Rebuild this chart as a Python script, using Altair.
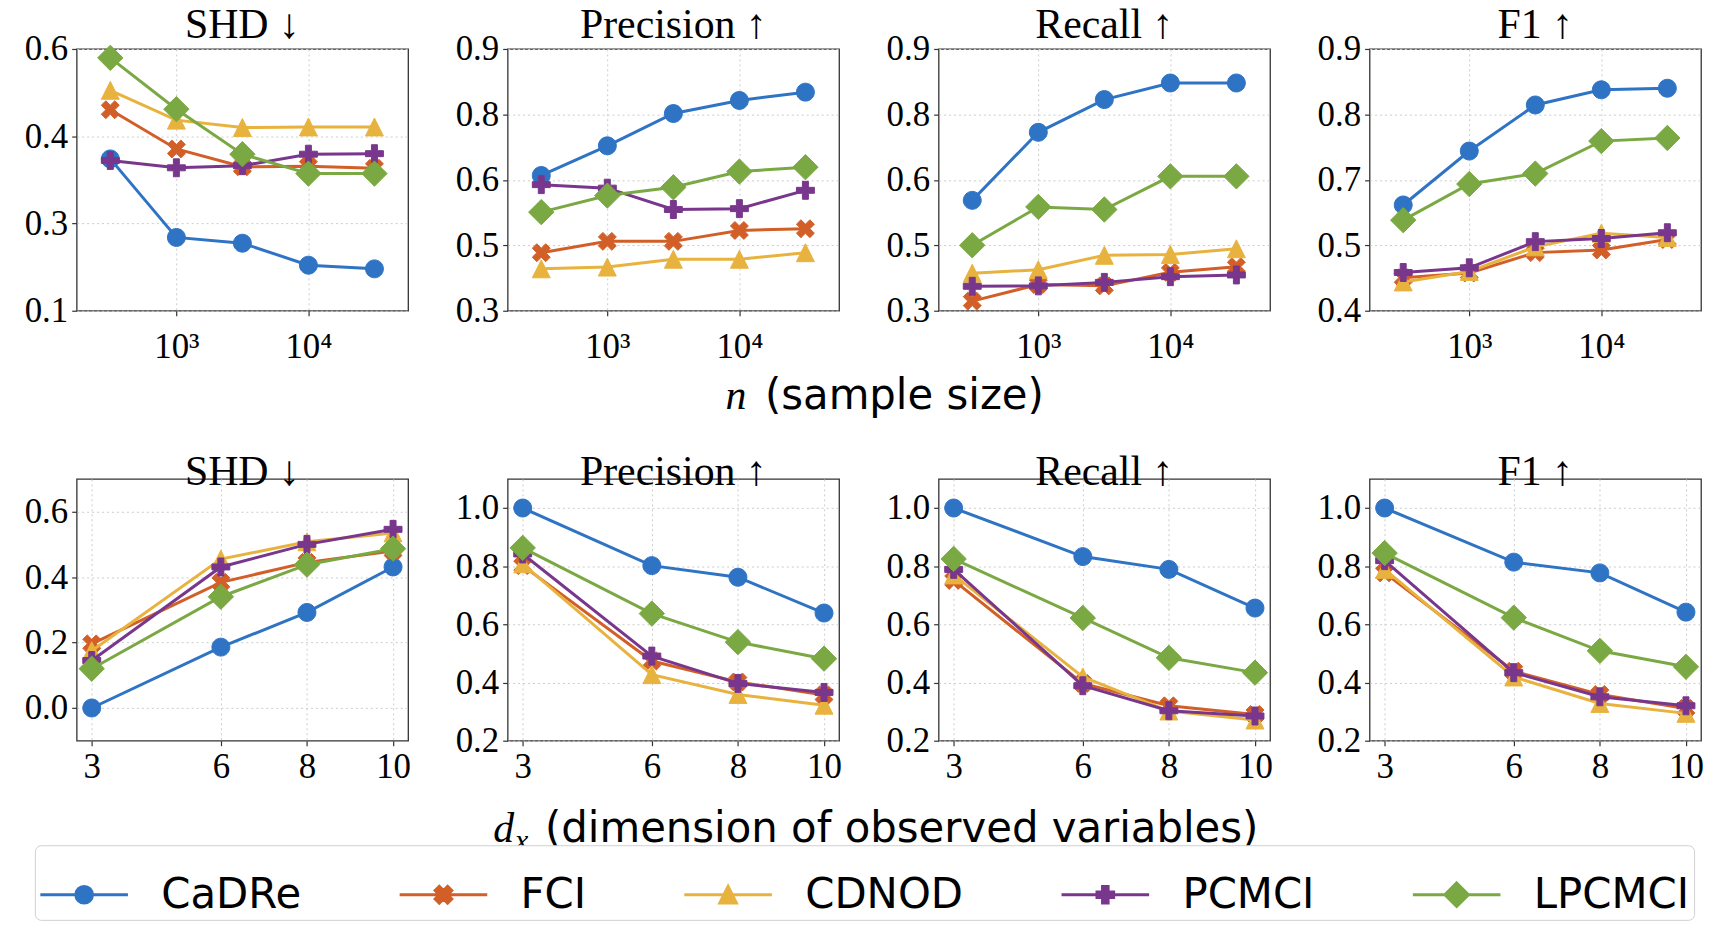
import altair as alt
import pandas as pd

# ---------------- data ----------------
METHODS = ["CaDRe", "FCI", "CDNOD", "PCMCI", "LPCMCI"]
COLORS = ["#2e73c4", "#d25f28", "#e8b23e", "#78378c", "#7aa842"]

NS = [316, 1000, 3162, 10000, 31623]
DX = [3, 6, 8, 10]

TOP_SHD = {
    "CaDRe": [0.390, 0.240, 0.229, 0.187, 0.180],
    "FCI": [0.484, 0.409, 0.375, 0.376, 0.372],
    "CDNOD": [0.521, 0.464, 0.450, 0.451, 0.451],
    "PCMCI": [0.387, 0.373, 0.377, 0.399, 0.400],
    "LPCMCI": [0.583, 0.485, 0.399, 0.362, 0.362],
}
TOP_PREC = {
    "CaDRe": [0.610, 0.678, 0.752, 0.782, 0.801],
    "FCI": [0.433, 0.459, 0.459, 0.484, 0.488],
    "CDNOD": [0.396, 0.400, 0.418, 0.418, 0.433],
    "PCMCI": [0.589, 0.581, 0.532, 0.534, 0.576],
    "LPCMCI": [0.526, 0.564, 0.583, 0.619, 0.629],
}
TOP_REC = {
    "CaDRe": [0.553, 0.709, 0.784, 0.822, 0.822],
    "FCI": [0.322, 0.360, 0.357, 0.388, 0.401],
    "CDNOD": [0.386, 0.394, 0.427, 0.429, 0.442],
    "PCMCI": [0.356, 0.357, 0.365, 0.378, 0.382],
    "LPCMCI": [0.450, 0.538, 0.532, 0.608, 0.608],
}
TOP_F1 = {
    "CaDRe": [0.602, 0.705, 0.793, 0.822, 0.825],
    "FCI": [0.463, 0.472, 0.511, 0.516, 0.536],
    "CDNOD": [0.455, 0.475, 0.522, 0.548, 0.540],
    "PCMCI": [0.473, 0.482, 0.532, 0.538, 0.549],
    "LPCMCI": [0.573, 0.642, 0.662, 0.724, 0.730],
}
BOT_SHD = {
    "CaDRe": [0.000, 0.186, 0.292, 0.431],
    "FCI": [0.196, 0.384, 0.445, 0.480],
    "CDNOD": [0.175, 0.455, 0.508, 0.535],
    "PCMCI": [0.145, 0.431, 0.500, 0.546],
    "LPCMCI": [0.120, 0.340, 0.438, 0.487],
}
BOT_PREC = {
    "CaDRe": [1.000, 0.802, 0.762, 0.639],
    "FCI": [0.802, 0.474, 0.402, 0.357],
    "CDNOD": [0.808, 0.427, 0.359, 0.322],
    "PCMCI": [0.842, 0.491, 0.397, 0.366],
    "LPCMCI": [0.863, 0.637, 0.539, 0.482],
}
BOT_REC = {
    "CaDRe": [1.000, 0.833, 0.789, 0.656],
    "FCI": [0.751, 0.397, 0.320, 0.290],
    "CDNOD": [0.770, 0.419, 0.302, 0.271],
    "PCMCI": [0.789, 0.389, 0.303, 0.285],
    "LPCMCI": [0.825, 0.622, 0.485, 0.434],
}
BOT_F1 = {
    "CaDRe": [1.000, 0.814, 0.777, 0.642],
    "FCI": [0.777, 0.439, 0.359, 0.311],
    "CDNOD": [0.789, 0.419, 0.328, 0.294],
    "PCMCI": [0.819, 0.434, 0.351, 0.320],
    "LPCMCI": [0.845, 0.623, 0.509, 0.454],
}

# ---------------- marker shapes ----------------
T = 1.0 / 3.0
SHAPE_PTS = {
    "x": [(-0.5, -1), (0, -0.5), (0.5, -1), (1, -0.5), (0.5, 0), (1, 0.5), (0.5, 1),
          (0, 0.5), (-0.5, 1), (-1, 0.5), (-0.5, 0), (-1, -0.5)],
    "tri": [(0, -1), (1, 1), (-1, 1)],
    "plus": [(-T, -1), (T, -1), (T, -T), (1, -T), (1, T), (T, T), (T, 1), (-T, 1),
             (-T, T), (-1, T), (-1, -T), (-T, -T)],
    "diamond": [(0, -1.414), (1.414, 0), (0, 1.414), (-1.414, 0)],
}
KINDS = ["circle", "x", "tri", "plus", "diamond"]


def shape_path(kind, s):
    if kind == "circle":
        return f"M{s:.4f},0A{s:.4f},{s:.4f},0,1,1,{-s:.4f},0A{s:.4f},{s:.4f},0,1,1,{s:.4f},0Z"
    pts = SHAPE_PTS[kind]
    return "M" + "L".join(f"{x * s:.4f},{y * s:.4f}" for x, y in pts) + "Z"


MARKERS = [shape_path(k, 1.0) for k in KINDS]
LEGEND_SHAPES = ["M-1,0L1,0" + shape_path(k, 0.19) for k in KINDS]

SERIF = "Liberation Serif"
SANS = "DejaVu Sans"
W, H = 333, 263


def fmt_expr():
    return "format(datum.value + 1e-9, '.1f')"


def make_panel(vals, top, ydomain, yticks, title, xtitle=None, legend=False):
    if top:
        xs = NS
        xscale = alt.Scale(type="log", domain=[10 ** 2.245, 10 ** 4.755], nice=False)
        axis_kw = dict(values=[1000, 10000], labelPadding=14,
                       labelExpr="datum.value == 1000 ? '10\u00b3' : '10\u2074'")
    else:
        xs = DX
        xscale = alt.Scale(domain=[2.65, 10.35], nice=False, zero=False)
        axis_kw = dict(values=DX, format="d")
    if xtitle is not None:
        axis_kw.update(xtitle)
    else:
        axis_kw["title"] = None
    xax = alt.Axis(**axis_kw)
    yax = alt.Axis(values=yticks, labelExpr=fmt_expr(), title=None)
    X = alt.X("x:Q", scale=xscale, axis=xax)
    Y = alt.Y("y:Q", scale=alt.Scale(domain=ydomain, nice=False, zero=False), axis=yax)

    layers = []
    for m, col, mk in zip(METHODS, COLORS, MARKERS):
        df = pd.DataFrame({"x": xs, "y": vals[m], "method": m})
        base = alt.Chart(df).encode(x=X, y=Y)
        layers.append(base.mark_line(color=col, strokeWidth=3, clip=False))
        layers.append(base.mark_point(shape=mk, filled=True, fill=col, stroke=col,
                                      strokeWidth=1, size=324, opacity=1, clip=False))
    if legend:
        ldf = pd.DataFrame({"x": [xs[0]] * 5, "y": [vals[m][0] for m in METHODS], "method": METHODS})
        leg = alt.Legend(title=None, orient="none", legendX=-42, legendY=800,
                         direction="horizontal", columns=5,
                         symbolSize=7744, symbolStrokeWidth=3,
                         labelFont=SANS, labelFontSize=42, labelColor="black",
                         labelOffset=32, columnPadding=92, labelLimit=0,
                         padding=4, strokeColor="#d0d0d0", cornerRadius=6,
                         fillColor="white")
        dummy = alt.Chart(ldf).transform_filter("datum.y > 100").mark_point(
            filled=True, strokeWidth=3, opacity=1).encode(
            x=X, y=Y,
            fill=alt.Fill("method:N", scale=alt.Scale(domain=METHODS, range=COLORS), legend=leg),
            stroke=alt.Stroke("method:N", scale=alt.Scale(domain=METHODS, range=COLORS), legend=leg),
            shape=alt.Shape("method:N", scale=alt.Scale(domain=METHODS, range=LEGEND_SHAPES), legend=leg),
        )
        layers.append(dummy)
    return alt.layer(*layers).properties(
        width=W, height=H,
        title=alt.TitleParams(title, font=SERIF, fontSize=42, fontWeight="normal",
                              color="black", anchor="middle", offset=0, frame="group",
                              dy=15),
    )


TOP3 = [0.1, 0.1 + 0.5 / 3, 0.1 + 1.0 / 3, 0.6]
T5a = [0.3, 0.45, 0.6, 0.75, 0.9]
T5b = [0.4, 0.525, 0.65, 0.775, 0.9]

title_common = dict(titleFontSize=42, titleColor="black", titleFontWeight="normal",
                    titleBaseline="alphabetic", titleAngle=0)

n_title = dict(title="n", titleFont=SERIF, titleFontStyle="italic", titleX=229, titleY=98,
               titleAlign="center", **title_common)
ss_title = dict(title="(sample size)", titleFont=SANS, titleX=-175, titleY=98,
                titleAlign="left", **title_common)
d_title = dict(title="d", titleFont=SERIF, titleFontStyle="italic", titleX=-15, titleY=101,
               titleAlign="left", **title_common)
sub_common = dict(title_common)
sub_common["titleFontSize"] = 30
x_title = dict(title="x", titleFont=SERIF, titleFontStyle="italic", titleX=440, titleY=109,
               titleAlign="left", **sub_common)
dim_title = dict(title="(dimension of observed variables)", titleFont=SANS, titleX=-396,
                 titleY=101, titleAlign="left", **title_common)

panels = [
    make_panel(TOP_SHD, True, [0.1, 0.6], TOP3, "SHD \u2193"),
    make_panel(TOP_PREC, True, [0.3, 0.9], T5a, "Precision \u2191", xtitle=n_title),
    make_panel(TOP_REC, True, [0.3, 0.9], T5a, "Recall \u2191", xtitle=ss_title),
    make_panel(TOP_F1, True, [0.4, 0.9], T5b, "F1 \u2191"),
    make_panel(BOT_SHD, False, [-0.1, 0.7], [0.0, 0.2, 0.4, 0.6], "SHD \u2193", xtitle=x_title, legend=True),
    make_panel(BOT_PREC, False, [0.2, 1.1], [0.2, 0.4, 0.6, 0.8, 1.0], "Precision \u2191", xtitle=d_title),
    make_panel(BOT_REC, False, [0.2, 1.1], [0.2, 0.4, 0.6, 0.8, 1.0], "Recall \u2191", xtitle=dim_title),
    make_panel(BOT_F1, False, [0.2, 1.1], [0.2, 0.4, 0.6, 0.8, 1.0], "F1 \u2191"),
]

chart = alt.concat(
    *panels, columns=4, spacing={"row": 169, "column": 100}, bounds="flush"
).properties(
    padding={"left": 15, "top": -7, "right": 0, "bottom": 0}
).configure_view(
    stroke="#333333", strokeWidth=1.3
).configure_axis(
    labelFont=SERIF, labelFontSize=35, labelColor="black",
    tickColor="#333333", tickSize=5, tickWidth=1.2, domain=False,
    grid=True, gridColor="#cccccc", gridDash=[2, 3], gridWidth=1, labelPadding=4,
)

chart.save("out.html", embed_options={"renderer": "svg", "actions": False})
